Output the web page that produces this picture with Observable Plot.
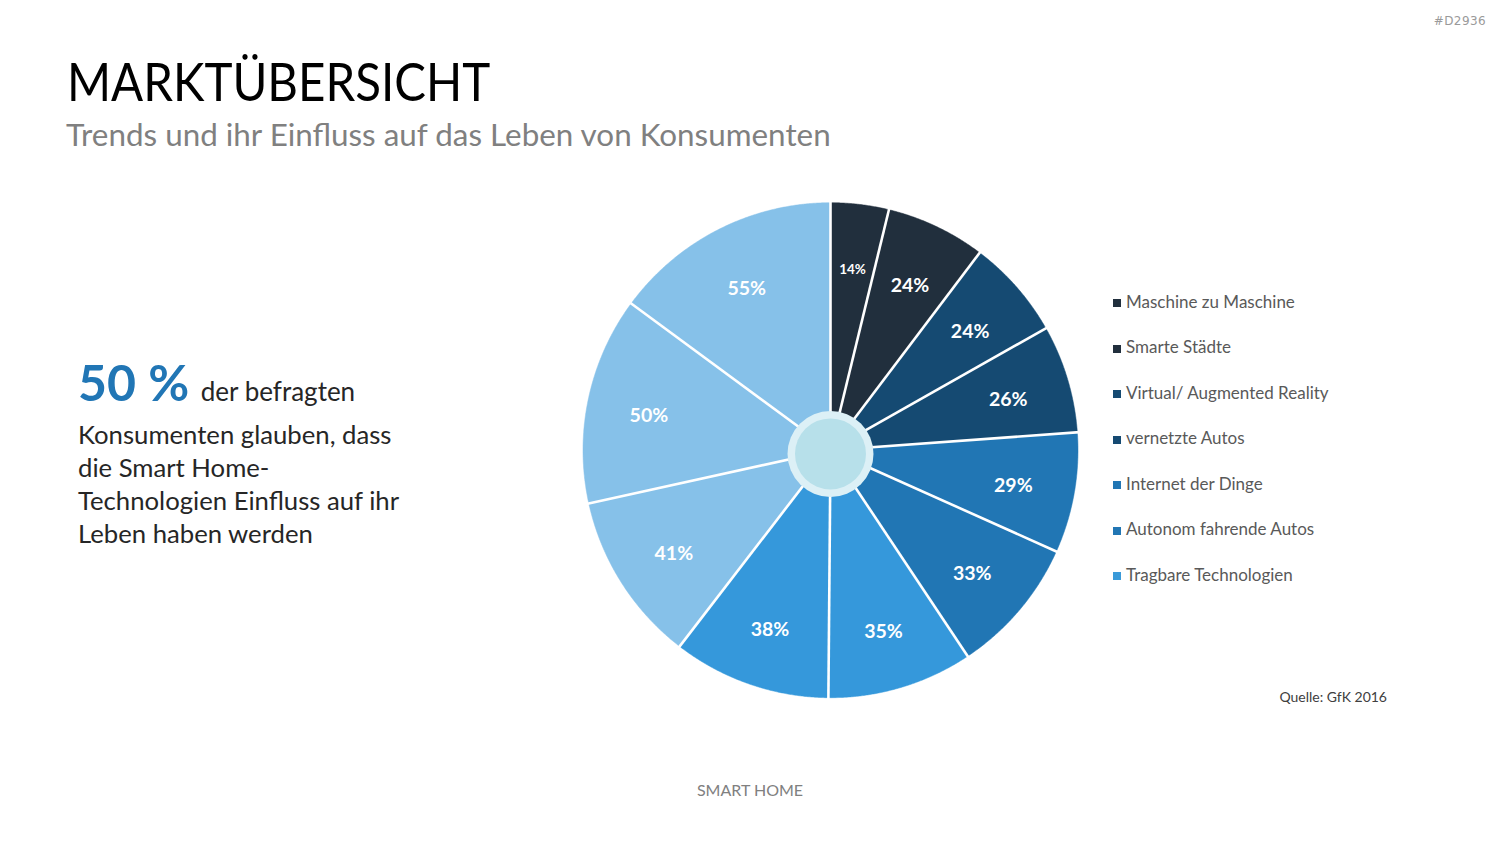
<!DOCTYPE html>
<html>
<head>
<meta charset="utf-8">
<script src="https://cdn.jsdelivr.net/npm/d3@7"></script>
<script src="https://cdn.jsdelivr.net/npm/@observablehq/plot@0.6"></script>
<style>
  html, body { margin: 0; padding: 0; background: #fff; }
  body { width: 1500px; height: 844px; position: relative; overflow: hidden; font-family: Lato, "Open Sans", sans-serif; }
  .abs { position: absolute; white-space: nowrap; line-height: 1.2; }
  #chart { position: absolute; left: 560px; top: 180px; }
  .sq { position: absolute; width: 8px; height: 8px; }
</style>
</head>
<body>
<div class="abs" id="tag" style="right:14px; top:14px; font-family:'DejaVu Sans'; font-size:12px; color:#9a9a9a; letter-spacing:0.4px;">#D2936</div>
<div class="abs" id="title" style="left:67px; top:49.5px; font-size:52px; color:#000; transform:scaleX(0.913); transform-origin:0 0;">MARKTÜBERSICHT</div>
<div class="abs" id="subtitle" style="left:66px; top:116px; font-size:31.4px; color:#808080;">Trends und ihr Einfluss auf das Leben von Konsumenten</div>
<div class="abs" id="big" style="left:78px; top:352px; font-size:50px; line-height:60px; color:#262626;"><span style="font-weight:700; color:#2176b5;">50 %</span><span style="font-size:26px; margin-left:5px;"> der befragten</span></div>
<div class="abs" id="body" style="left:78px; top:417.5px; font-size:25.7px; line-height:33px; color:#262626;">Konsumenten glauben, dass<br>die Smart Home-<br>Technologien Einfluss auf ihr<br>Leben haben werden</div>
<div id="legend"></div>
<div id="chart"></div>
<div class="abs" id="source" style="right:113px; top:689px; font-size:14px; color:#404040;">Quelle: GfK 2016</div>
<div class="abs" id="footer" style="left:0; width:1500px; text-align:center; top:780px; font-size:16px; color:#808080;">SMART HOME</div>
<script>
// ---- data ----
const legendLabels = ["Maschine zu Maschine", "Smarte Städte", "Virtual/ Augmented Reality", "vernetzte Autos", "Internet der Dinge", "Autonom fahrende Autos", "Tragbare Technologien"];
const sliceValues = [14, 24, 24, 26, 29, 33, 35, 38, 41, 50, 55];
// ---- styles ----
const legendPalette = ["#212f3d", "#212f3d", "#154a72", "#154a72", "#2176b4", "#2176b4", "#3a9ad9"];
const slicePalette = ["#212f3d", "#212f3d", "#154a72", "#154a72", "#2176b4", "#2176b4", "#3598db", "#3598db", "#86c1e9", "#86c1e9", "#86c1e9"];

// legend (HTML)
const leg = document.getElementById("legend");
legendLabels.forEach((lab, i) => {
  const sq = document.createElement("div");
  sq.className = "sq";
  sq.style.left = "1113px";
  sq.style.top = (299 + 45.5 * i) + "px";
  sq.style.background = legendPalette[i];
  leg.appendChild(sq);
  const t = document.createElement("div");
  t.className = "abs";
  t.style.left = "1126px";
  t.style.top = (291.5 + 45.5 * i) + "px";
  t.style.fontSize = "17px";
  t.style.lineHeight = "20px";
  t.style.color = "#595959";
  t.textContent = lab;
  leg.appendChild(t);
});

// pie geometry from data
const arcs = d3.pie().sort(null).value(d => d)(sliceValues);
const poly = [];
arcs.forEach((a, i) => {
  poly.push({i, x: 0, y: 0});
  const n = Math.max(2, Math.ceil((a.endAngle - a.startAngle) / 0.005));
  for (let k = 0; k <= n; k++) {
    const t = a.startAngle + (a.endAngle - a.startAngle) * k / n;
    poly.push({i, x: Math.sin(t), y: Math.cos(t)});
  }
  poly.push({i, x: 0, y: 0});
});
const seps = arcs.map(a => ({x2: Math.sin(a.startAngle) * 1.01, y2: Math.cos(a.startAngle) * 1.01}));
const hubY = -0.015;
const labR = 0.75;
const labels = arcs.map((a, i) => {
  const m = (a.startAngle + a.endAngle) / 2;
  return {x: labR * Math.sin(m), y: hubY + labR * Math.cos(m), text: sliceValues[i] + "%", small: sliceValues[i] < 20};
});

const W = 560, H = 540, cx = 270, cy = 269.7, R = 247.5;
const chart = Plot.plot({
  width: W, height: H,
  margin: 0,
  style: {background: "transparent", overflow: "visible"},
  x: {domain: [-1, 1], range: [cx - R, cx + R], axis: null},
  y: {domain: [-1, 1], range: [cy + R, cy - R], axis: null},
  color: {type: "identity"},
  marks: [
    Plot.line(poly, {x: "x", y: "y", z: "i", fill: d => slicePalette[d.i], stroke: d => slicePalette[d.i], strokeWidth: 0.5, curve: "linear"}),
    Plot.link(seps, {x1: 0, y1: 0, x2: "x2", y2: "y2", stroke: "white", strokeWidth: 2.6}),
    Plot.dot([{x: 0, y: hubY}], {x: "x", y: "y", r: 43, fill: "#dcf0f6", stroke: "none"}),
    Plot.dot([{x: 0, y: hubY}], {x: "x", y: "y", r: 35.5, fill: "#b7e0ea", stroke: "none"}),
    Plot.text(labels, {x: "x", y: "y", text: "text", fill: "white", fontWeight: "bold", fontFamily: "Lato", fontSize: d => d.small ? 13.5 : 19.5})
  ]
});
document.getElementById("chart").appendChild(chart);
</script>
</body>
</html>
